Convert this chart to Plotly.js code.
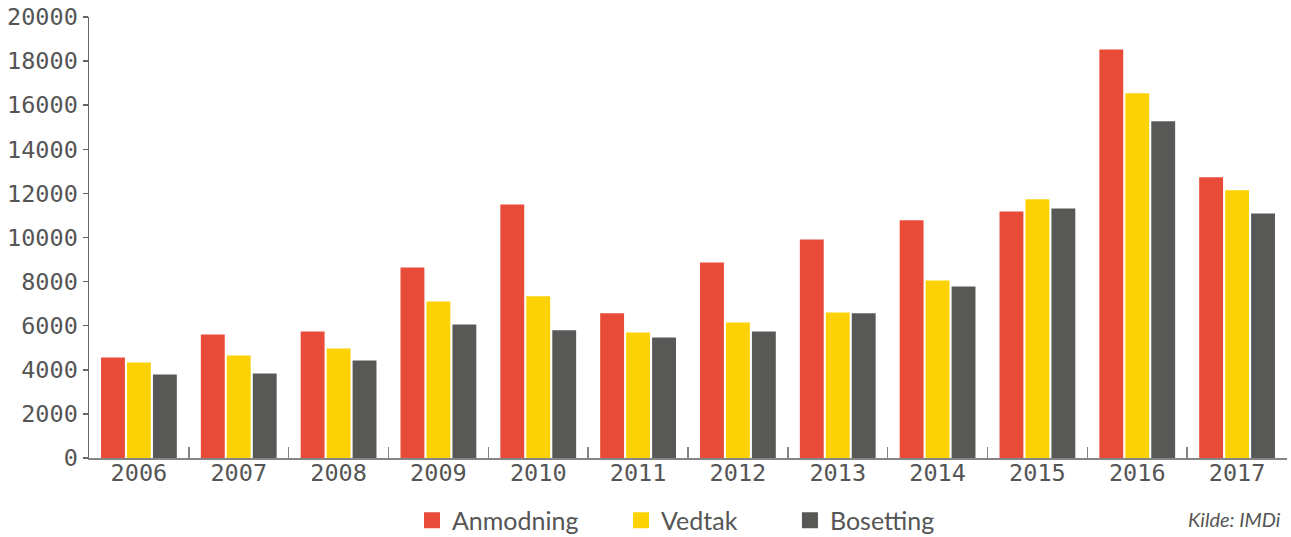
<!DOCTYPE html>
<html>
<head>
<meta charset="utf-8">
<script src="https://cdn.plot.ly/plotly-3.0.1.min.js"></script>
<style>html,body{margin:0;padding:0;background:#fff;}#chart{width:1291px;height:537px;}</style>
</head>
<body>
<div id="chart"></div>
<script>
const years = ['2006','2007','2008','2009','2010','2011','2012','2013','2014','2015','2016','2017'];
const anmodning = [4560, 5600, 5740, 8640, 11500, 6560, 8870, 9910, 10780, 11180, 18530, 12730];
const vedtak    = [4330, 4650, 4970, 7100, 7330, 5690, 6150, 6600, 8050, 11730, 16540, 12140];
const bosetting = [3790, 3830, 4420, 6060, 5790, 5470, 5740, 6560, 7780, 11320, 15270, 11090];
const seriesNames = ['Anmodning', 'Vedtak', 'Bosetting'];
const colors = ['#E84B37', '#FDD205', '#585856'];
const yTicks = [0, 2000, 4000, 6000, 8000, 10000, 12000, 14000, 16000, 18000, 20000];

const values = [anmodning, vedtak, bosetting];
const legendIds = ['legend', 'legend2', 'legend3'];
const traces = values.map((v, i) => ({
  type: 'bar', x: years, y: v, name: seriesNames[i], legendgroup: seriesNames[i],
  showlegend: false, marker: {color: colors[i]}, hoverinfo: 'x+y+name'
}));
// legend entries with larger square symbols
seriesNames.forEach((n, i) => traces.push({
  type: 'scatter', mode: 'markers', x: [null], y: [null], name: n, legendgroup: n,
  legend: legendIds[i],
  showlegend: true, marker: {symbol: 'square', size: 18, color: colors[i]}, hoverinfo: 'skip'
}));

const legendBase = {
  orientation: 'h', xanchor: 'left', y: -0.142, yanchor: 'middle',
  font: {family: 'Lato', size: 25, color: '#555'},
  itemsizing: 'trace', bgcolor: 'rgba(0,0,0,0)',
  itemclick: false, itemdoubleclick: false
};
const legendX = [0.2696, 0.4441, 0.5851];

const layout = {
  width: 1291, height: 537,
  margin: {l: 89, r: 4, t: 17, b: 79, pad: 0, autoexpand: false},
  paper_bgcolor: '#fff', plot_bgcolor: '#fff',
  barmode: 'group', bargap: 0.22, bargroupgap: 0.08,
  showlegend: true,
  legend: Object.assign({}, legendBase, {x: legendX[0]}),
  legend2: Object.assign({}, legendBase, {x: legendX[1]}),
  legend3: Object.assign({}, legendBase, {x: legendX[2]}),
  xaxis: {
    type: 'category', showgrid: false, zeroline: false,
    showline: true, linecolor: '#858585', linewidth: 2,
    ticks: 'inside', tickson: 'boundaries', ticklen: 11, tickcolor: '#858585', tickwidth: 1.5,
    ticklabelstandoff: -7,
    tickfont: {family: 'DejaVu Sans Mono', size: 23.5, color: '#555'}
  },
  yaxis: {
    range: [0, 20000], tickvals: yTicks, ticktext: yTicks.map(String),
    showgrid: false, zeroline: false,
    showline: true, linecolor: '#666', linewidth: 1.5,
    ticks: 'outside', ticklen: 5, tickcolor: '#666', tickwidth: 1.5,
    tickfont: {family: 'DejaVu Sans Mono', size: 23.5, color: '#555'}
  },
  annotations: [{
    text: '<i>Kilde: IMDi</i>', xref: 'paper', yref: 'paper', x: 1, xanchor: 'right', xshift: -4,
    y: -0.138, yanchor: 'middle', showarrow: false,
    font: {family: 'Lato', size: 20, color: '#555'}
  }]
};

Plotly.newPlot('chart', traces, layout, {displayModeBar: false, staticPlot: true});
</script>
</body>
</html>
